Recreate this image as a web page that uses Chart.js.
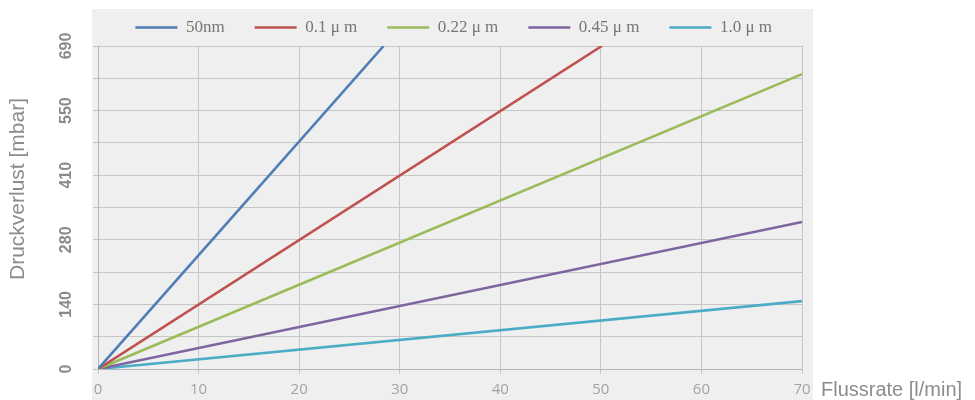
<!DOCTYPE html>
<html>
<head>
<meta charset="utf-8">
<script src="https://cdn.jsdelivr.net/npm/chart.js@4/dist/chart.umd.min.js"></script>
<style>
  html, body { margin: 0; padding: 0; background: #ffffff; }
  #wrap { width: 975px; height: 400px; position: relative; }
</style>
</head>
<body>
<div id="wrap"><canvas id="c"></canvas></div>
<script>
// ---- data ----
const SERIES_NAMES = ['50nm', '0.1 \u03bc m', '0.22 \u03bc m', '0.45 \u03bc m', '1.0 \u03bc m'];
const SERIES_COLORS = ['#4F7DB5', '#BE504D', '#9BBB59', '#7E65A0', '#4BACC6'];
const FLOW_50NM = [0, 28.4];   const DP_50NM = [0, 690];
const FLOW_01UM = [0, 50.1];   const DP_01UM = [0, 690];
const FLOW_022UM = [0, 70];    const DP_022UM = [0, 630];
const FLOW_045UM = [0, 70];    const DP_045UM = [0, 314];
const FLOW_10UM = [0, 70];     const DP_10UM = [0, 145];
const X_TICKS = [0, 10, 20, 30, 40, 50, 60, 70];
const Y_TICK_VALUES = [0, 69, 138, 207, 276, 345, 414, 483, 552, 621, 690];
const Y_TICK_LABELS = ['0', '', '140', '', '280', '', '410', '', '550', '', '690'];
const X_TITLE = 'Flussrate [l/min]';
const Y_TITLE = 'Druckverlust [mbar]';

const FLOWS = [FLOW_50NM, FLOW_01UM, FLOW_022UM, FLOW_045UM, FLOW_10UM];
const DPS = [DP_50NM, DP_01UM, DP_022UM, DP_045UM, DP_10UM];

const datasets = SERIES_NAMES.map((name, i) => ({
  label: name,
  data: FLOWS[i].map((x, j) => ({ x: x, y: DPS[i][j] })),
  borderColor: SERIES_COLORS[i],
  backgroundColor: SERIES_COLORS[i],
  borderWidth: 2.6,
  pointRadius: 0,
  pointHoverRadius: 0,
  tension: 0,
  fill: false
}));

const decor = {
  id: 'decor',
  beforeDraw(chart) {
    const { ctx, chartArea: a } = chart;
    ctx.save();
    ctx.fillStyle = '#efefef';
    ctx.fillRect(a.left - 6, 9, a.right - a.left + 17, chart.height - 9);
    ctx.restore();
  },
  afterDraw(chart) {
    const { ctx, chartArea: a } = chart;
    ctx.save();
    ctx.fillStyle = '#8c8c8c';
    ctx.font = '20px "Liberation Sans", Arial, sans-serif';
    ctx.textBaseline = 'middle';
    ctx.textAlign = 'left';
    ctx.fillText(X_TITLE, a.right + 19, 390);
    ctx.font = '21px "Liberation Sans", Arial, sans-serif';
    ctx.translate(18, 189);
    ctx.rotate(-Math.PI / 2);
    ctx.textAlign = 'center';
    ctx.fillText(Y_TITLE, 0, 0);
    ctx.restore();
  }
};

new Chart(document.getElementById('c'), {
  type: 'line',
  data: { datasets },
  plugins: [decor],
  options: {
    responsive: true,
    maintainAspectRatio: false,
    animation: false,
    events: [],
    layout: { padding: { top: -19.5, left: 0, right: 173, bottom: 0 } },
    plugins: {
      tooltip: { enabled: false },
      legend: {
        display: true,
        position: 'top',
        align: 'end',
        labels: {
          boxWidth: 42,
          boxHeight: 0,
          padding: 30,
          color: '#767676',
          font: { family: '"Liberation Serif", "Times New Roman", serif', size: 17 }
        }
      }
    },
    scales: {
      x: {
        type: 'linear',
        min: 0,
        max: 70,
        afterBuildTicks: (s) => { s.ticks = X_TICKS.map(v => ({ value: v })); },
        afterFit: (s) => { s.height = 31; },
        ticks: {
          color: '#a3a3a3',
          padding: 7,
          maxRotation: 0,
          font: { family: '"Open Sans", sans-serif', size: 15 }
        },
        grid: { color: '#c6c6c6', lineWidth: 1, tickLength: 5 },
        border: { color: '#b4b4b4', width: 1 }
      },
      y: {
        type: 'linear',
        min: 0,
        max: 690,
        afterBuildTicks: (s) => { s.ticks = Y_TICK_VALUES.map(v => ({ value: v })); },
        afterFit: (s) => { s.width = 98; s.paddingTop = 46; },
        ticks: {
          color: '#8a8a8a',
          padding: 13,
          minRotation: 90,
          maxRotation: 90,
          crossAlign: 'center',
          font: { family: '"Liberation Sans", Arial, sans-serif', size: 16, weight: 'bold' },
          callback: (value, index) => Y_TICK_LABELS[index]
        },
        grid: { color: '#c6c6c6', lineWidth: 1, tickLength: 5 },
        border: { color: '#b4b4b4', width: 1 }
      }
    }
  }
});
</script>
</body>
</html>
